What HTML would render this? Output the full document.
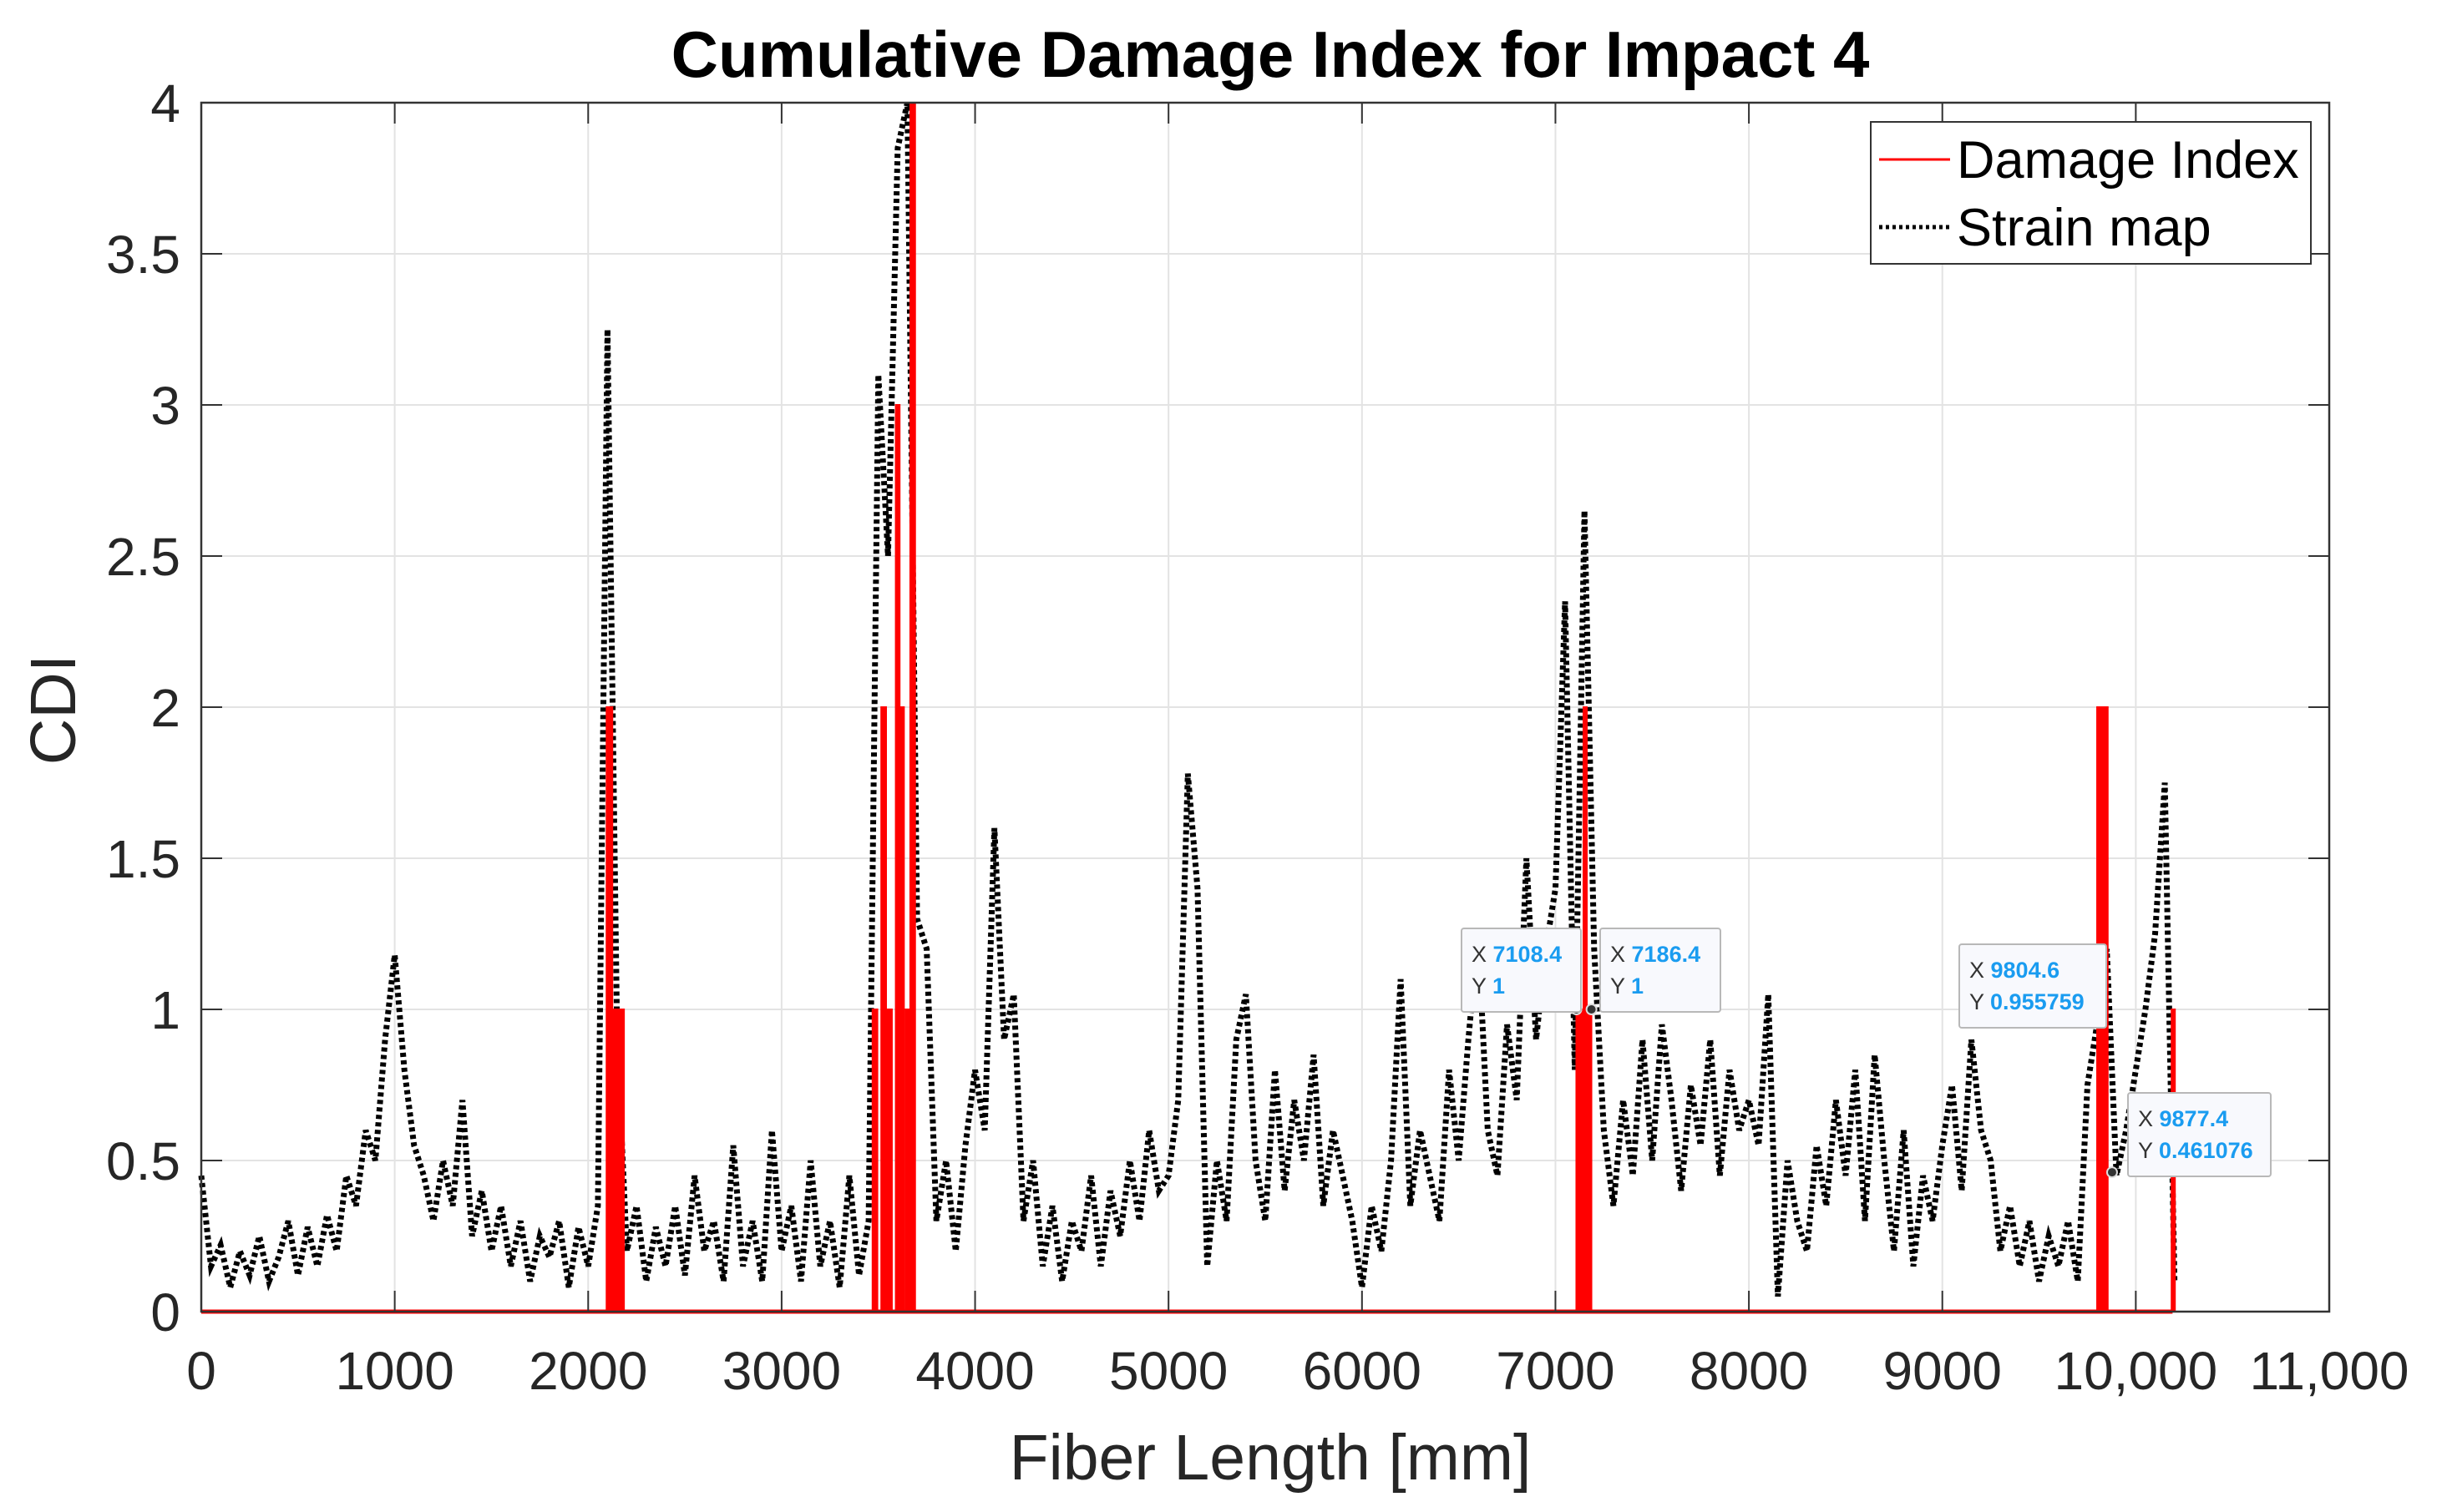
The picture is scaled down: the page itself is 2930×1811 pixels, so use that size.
<!DOCTYPE html>
<html><head><meta charset="utf-8"><style>
html,body{margin:0;padding:0;background:#fff}
svg{display:block}
text{font-family:"Liberation Sans",Arial,sans-serif}
</style></head><body>
<svg id="chart" width="2930" height="1811" xmlns="http://www.w3.org/2000/svg">
<rect x="0" y="0" width="2930" height="1811" fill="#fff"/>
<g id="grid"></g>
<g id="series"></g>
<g id="axes"></g>
<text x="1521" y="92" text-anchor="middle" font-size="78" font-weight="bold" fill="#000">Cumulative Damage Index for Impact 4</text>
<text x="1521" y="1772" text-anchor="middle" font-size="77" fill="#262626">Fiber Length [mm]</text>
<text x="0" y="0" transform="translate(90,850) rotate(-90)" text-anchor="middle" font-size="77" fill="#262626">CDI</text>
<g id="tips"></g>
<g>
<rect x="2240" y="146" width="527" height="170" fill="#fff" stroke="#333" stroke-width="2"/>
<line x1="2250" y1="191" x2="2335" y2="191" stroke="#ff0000" stroke-width="3"/>
<text x="2343" y="213" font-size="63" fill="#000">Damage Index</text>
<line x1="2250" y1="272" x2="2335" y2="272" stroke="#000" stroke-width="5" stroke-dasharray="4 4"/>
<text x="2343" y="294" font-size="63" fill="#000">Strain map</text>
</g>
</svg>
<script>
const xTicks=[0,1000,2000,3000,4000,5000,6000,7000,8000,9000,10000,11000];
const xTickLabels=["0","1000","2000","3000","4000","5000","6000","7000","8000","9000","10,000","11,000"];
const yTicks=[0,0.5,1,1.5,2,2.5,3,3.5,4];
const yTickLabels=["0","0.5","1","1.5","2","2.5","3","3.5","4"];
const strainStep=50;
const strainValues=[
0.45,0.15,0.22,0.08,0.2,0.12,0.25,0.1,0.18,0.3,
0.12,0.28,0.15,0.32,0.2,0.45,0.35,0.6,0.5,0.9,
1.18,0.8,0.55,0.45,0.3,0.5,0.35,0.7,0.25,0.4,
0.2,0.35,0.15,0.3,0.1,0.25,0.18,0.3,0.08,0.28,
0.15,0.35,3.25,0.9,0.2,0.35,0.1,0.28,0.15,0.35,
0.12,0.45,0.2,0.3,0.1,0.55,0.15,0.3,0.1,0.6,
0.2,0.35,0.1,0.5,0.15,0.3,0.08,0.45,0.12,0.3,
3.1,2.5,3.85,4.0,1.3,1.2,0.3,0.5,0.2,0.55,
0.8,0.6,1.6,0.9,1.05,0.3,0.5,0.15,0.35,0.1,
0.3,0.2,0.45,0.15,0.4,0.25,0.5,0.3,0.6,0.4,
0.45,0.7,1.78,1.4,0.15,0.5,0.3,0.9,1.05,0.5,
0.3,0.8,0.4,0.7,0.5,0.85,0.35,0.6,0.45,0.3,
0.08,0.35,0.2,0.5,1.1,0.35,0.6,0.45,0.3,0.8,
0.5,0.9,1.25,0.6,0.45,0.95,0.7,1.5,0.9,1.2,
1.4,2.35,0.8,2.65,1.2,0.6,0.35,0.7,0.45,0.9,
0.5,0.95,0.7,0.4,0.75,0.55,0.9,0.45,0.8,0.6,
0.7,0.55,1.05,0.05,0.5,0.3,0.2,0.55,0.35,0.7,
0.45,0.8,0.3,0.85,0.5,0.2,0.6,0.15,0.45,0.3,
0.55,0.75,0.4,0.9,0.6,0.5,0.2,0.35,0.15,0.3,
0.1,0.25,0.15,0.3,0.1,0.75,0.95,1.2,0.45,0.6,
0.8,1.0,1.25,1.75,0.1];
const spikeStart=[2095,2125,3470,3515,3545,3590,3615,3640,3665,7108,7145,7165,9800,10185];
const spikeEnd=[2125,2185,3495,3540,3570,3610,3630,3655,3690,7140,7160,7186,9855,10190];
const spikeHeight=[2,1,1,2,1,3,2,1,4,1,2,1,2,1];
const tipX=[7108.4,7186.4,9804.6,9877.4];
const tipY=[1,1,0.955759,0.461076];
const tipLabels=[["7108.4","1"],["7186.4","1"],["9804.6","0.955759"],["9877.4","0.461076"]];

const L=241,R=2789,T=123,B=1571,XMAX=11000,YMAX=4;
const sx=v=>L+v/XMAX*(R-L);
const sy=v=>B-v/YMAX*(B-T);
const NS="http://www.w3.org/2000/svg";
function mk(tag,attrs,parent){const e=document.createElementNS(NS,tag);for(const k in attrs)e.setAttribute(k,attrs[k]);parent.appendChild(e);return e;}
const grid=document.getElementById('grid'),axes=document.getElementById('axes'),series=document.getElementById('series'),tips=document.getElementById('tips');
xTicks.forEach((t,i)=>{
  const g=mk('line',{x1:sx(t),x2:sx(t),y1:T,y2:B,stroke:'#e3e3e3','stroke-width':2},grid);
  
  
  const tk=mk('line',{x1:sx(t),x2:sx(t),y1:T,y2:T+25,stroke:'#333','stroke-width':2},axes);
  
  
  const tb=mk('line',{x1:sx(t),x2:sx(t),y1:B,y2:B-25,stroke:'#333','stroke-width':2},axes);
  
  
  const lb=mk('text',{x:sx(t),y:1664,'text-anchor':'middle','font-size':64,fill:'#262626'},axes);
  lb.textContent=xTickLabels[i];
  
  
});
yTicks.forEach((t,i)=>{
  const g=mk('line',{x1:L,x2:R,y1:sy(t),y2:sy(t),stroke:'#e3e3e3','stroke-width':2},grid);
  
  
  const tk=mk('line',{x1:L,x2:L+25,y1:sy(t),y2:sy(t),stroke:'#333','stroke-width':2},axes);
  
  
  const tr=mk('line',{x1:R,x2:R-25,y1:sy(t),y2:sy(t),stroke:'#333','stroke-width':2},axes);
  
  
  const lb=mk('text',{x:216,y:sy(t)+23,'text-anchor':'end','font-size':64,fill:'#262626'},axes);
  lb.textContent=yTickLabels[i];
  
  
});
const frame=mk('rect',{x:L,y:T,width:R-L,height:B-T,fill:'none',stroke:'#333','stroke-width':2.5},axes);



let sp=strainValues.map((v,i)=>sx(i*strainStep).toFixed(1)+','+sy(v).toFixed(1)).join(' ');
const strain=mk('polyline',{points:sp,fill:'none',stroke:'#000','stroke-width':7,'stroke-dasharray':'5 4'},series);



const base=mk('line',{x1:sx(0),x2:sx(10190),y1:sy(0),y2:sy(0),stroke:'#ff0000','stroke-width':5},series);


spikeStart.forEach((s,i)=>{
  const r=mk('rect',{x:sx(s),y:sy(spikeHeight[i]),width:Math.max(4,sx(spikeEnd[i])-sx(s)),height:sy(0)-sy(spikeHeight[i]),fill:'#ff0000',stroke:'#ff0000','stroke-width':2},series);
  
  
});

const tipBox=[[1750,1112],[1916,1112],[2346,1131],[2548,1309]];
const tipW=[143,144,176,171];
tipX.forEach((x,i)=>{
  const d=mk('circle',{cx:sx(x),cy:sy(tipY[i]),r:6,fill:'#333',stroke:'#ddd','stroke-width':2},tips);
  
  
  const b=mk('rect',{x:tipBox[i][0],y:tipBox[i][1],width:tipW[i],height:100,fill:'#f8f9fd',stroke:'#b8b8b8','stroke-width':2,rx:3},tips);
  
  
  const t1=mk('text',{x:tipBox[i][0]+12,y:tipBox[i][1]+40,'font-size':27,fill:'#333'},tips);
  t1.innerHTML='X <tspan fill="#1a9cf0" font-weight="bold">'+tipLabels[i][0]+'</tspan>';
  
  
  const t2=mk('text',{x:tipBox[i][0]+12,y:tipBox[i][1]+78,'font-size':27,fill:'#333'},tips);
  t2.innerHTML='Y <tspan fill="#1a9cf0" font-weight="bold">'+tipLabels[i][1]+'</tspan>';
  
  
});
</script>
</body></html>
